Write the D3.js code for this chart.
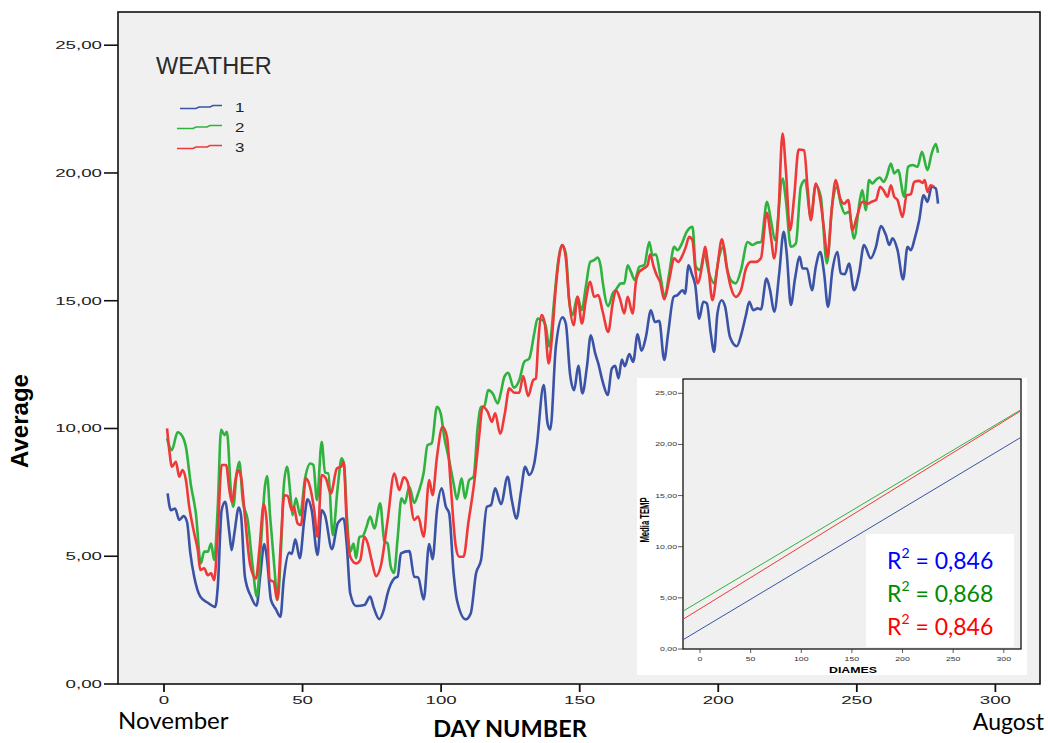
<!DOCTYPE html>
<html><head><meta charset="utf-8">
<script src="https://cdn.jsdelivr.net/npm/d3@7"></script>
<style>body{margin:0;background:#fff}svg{display:block}</style>
</head><body><svg id="c" width="1048" height="743"></svg>
<script>
// ---- data ----
const days1=[1.3,2.5,4,5.5,7.1,8.3,9.5,10.9,13.1,15.8,18.5,19.4,20.8,22.1,23.6,24.4,25.4,27,27.8,29.2,31.4,33.4,34.7,36.2,37.2,38.6,40.4,42,43.2,45.2,46.1,47.4,49,50.6,51.8,53.3,55.4,56.9,58.1,60.6,62.7,64.8,66,67.2,69.3,72.3,74.4,75.6,77.7,79.3,80.7,83.1,84.3,85.5,88.5,90.3,91.7,93.7,95.7,96.9,98.5,100.2,101.7,102.9,104.5,105.7,108.9,110.7,112.6,114.4,116.5,118,119.5,121.6,124,125.5,127.2,128.8,130.3,131.8,133.6,134.5,137,138.4,139.4,141.4,143.8,145,146.5,148,149.5,151,152.6,154,155.6,156.7,158.3,160.1,161.6,162.8,164,165.2,166.3,167.9,169.3,170.9,172.3,173.9,175.7,177.1,178.7,180.5,181.9,183.9,185.3,187.1,188,189.3,190.5,191.7,193.1,194.6,195.9,197.3,198.5,199.7,201.2,202.5,204.2,206.7,208.4,210,211.2,212.6,214.2,215.4,217.4,218.7,220.2,222,223.6,224.7,226.2,227.7,229.4,230.4,232,233.8,235.2,236.8,238.2,239.6,241.2,243,244.2,245.7,247.2,249,250.8,252.6,255,256.9,258.7,260.5,261.7,262.9,264.7,266.7,268.3,269.5,270.9,272.5,274.1,275.5,277,278.5,279.3];
const temp1=[7.46,6.8,6.87,6.42,6.57,6.35,5.12,4.2,3.42,3.18,3.02,3.8,6.8,7.13,5.9,5.24,5.9,6.91,6.6,4.2,3.42,3.06,4.2,5.48,4.85,3.29,2.92,2.63,4.07,5.14,5.09,5.66,4.92,6.42,7.23,6.8,5.05,6.8,6.6,5.28,6.29,6.48,5.37,3.55,3.05,3.09,3.42,3.02,2.54,2.9,3.55,4.13,4.2,5.11,5.2,4.2,4.17,3.31,5.48,4.88,6.8,7.66,6.94,6.68,4.33,3.29,2.53,2.77,4.33,4.85,6.94,7.0,7.66,7.04,8.11,7.2,6.48,7.52,8.5,8.18,8.63,9.3,11.7,10.2,9.96,13.2,14.35,14.1,12.15,11.5,12.45,11.37,12.41,13.65,12.94,12.55,11.83,11.31,12.35,12.45,11.96,12.7,12.44,12.91,12.61,13.69,13.04,13.59,14.63,14.17,14.21,12.68,13.72,15.15,15.22,15.41,15.28,16.39,16.04,15.61,14.3,14.96,14.89,13.72,13.0,14.5,15.02,14.76,13.59,13.22,13.72,14.44,14.96,14.63,14.7,14.66,15.87,15.41,14.57,16.07,17.7,16.85,14.83,15.87,16.72,16.26,16.26,15.41,16.33,16.91,16.07,14.76,16.2,16.91,16.07,16.04,16.46,15.41,16.07,17.18,16.66,17.11,17.92,17.57,17.18,17.44,16.98,15.83,17.11,16.98,17.44,18.15,19.13,18.87,19.46,19.39,18.8];

const days2=[1.1,2.8,4.9,6.7,7.9,9.7,11.5,13.3,14.5,15.8,17,18.1,19.4,20.6,21.8,22.7,24.2,25,26.2,27.2,28.4,30.2,32,33.5,35,36.4,37.2,38.3,39.8,41,42.2,43.2,44.4,45.8,46.4,47.6,49.1,50.9,52.8,53.9,55.2,56.9,58.1,59.3,60.9,62.7,64.1,65,66,67.2,68.4,69.3,70.5,71.7,72.9,74.4,75.9,78,79.5,80.7,81.8,83,84.3,85.7,86.9,88.5,90.3,91.7,93.7,95.1,96.6,98.5,99.9,101.1,102.9,104.5,105.7,107.4,108.6,110.1,111.7,113.2,114.4,115.5,117,118.6,120.4,121.6,122.8,124.2,126.2,128.2,130,131.8,133.6,134.8,136.6,137.8,139,140.8,142.2,143.6,145,146.2,147.4,149.2,150.7,152.2,153.8,155.2,156.5,157.6,158.3,160.3,161.9,163.1,164.9,166.1,167.3,168.5,169.9,171.5,173.3,175.1,176.3,177.5,179,180.7,182.3,184.1,185.3,187.1,188.3,189.5,190.7,191.9,193.5,194.9,196.7,198.5,200.3,201.9,203.3,204.5,206.3,208.2,210.6,212.4,213.9,215.4,217.6,219,220.5,223.2,224.4,226.2,228,229.8,231.3,233.4,235.2,237,239.2,241.2,242.8,244.2,245.7,247.2,249,251.2,252,253.2,254.4,255.6,256.8,258.3,259.6,260.8,262.3,263.5,264.9,267.1,268.5,270.1,271.9,273.5,275.5,277,278.5,279.3];
const temp2=[9.61,9.15,9.85,9.68,9.28,7.79,6.68,4.72,5.18,5.18,5.5,4.85,6.94,9.96,9.74,9.87,7.46,6.94,8.24,8.7,7.2,6.42,4.59,3.42,5.5,7.72,8.14,6.55,4.59,3.29,5.24,7.72,8.5,7.2,6.61,7.27,6.61,8.05,8.63,8.57,7.2,9.48,8.27,8.24,5.83,7.72,8.83,8.57,6.55,5.18,5.5,4.92,5.76,5.79,6.09,6.55,6.09,7.07,5.6,5.5,4.6,4.35,5.7,7.27,7.07,7.72,7.09,7.46,8.27,9.35,9.42,10.85,10.56,9.68,8.76,7.85,7.23,8.05,7.27,7.98,8.11,10.07,10.85,10.85,11.5,11.37,10.98,11.43,12.02,12.18,11.6,11.89,12.61,12.74,13.72,14.3,14.24,13.98,13.2,15.02,16.52,17.18,16.85,15.02,14.44,15.15,14.63,15.54,16.52,16.59,16.69,16.33,15.74,14.79,15.28,15.44,15.68,15.68,16.39,16.13,15.81,16.33,16.39,17.3,16.78,16.82,16.04,15.15,16.07,17.11,16.98,17.3,17.63,17.83,17.89,16.33,16.2,16.85,16.07,15.68,16.72,17.11,16.2,15.81,15.68,16.2,17.3,17.18,17.27,17.3,18.87,18.15,17.37,19.78,18.94,17.11,17.24,19.46,19.72,18.28,19.52,19.07,16.46,18.8,19.46,18.8,18.41,18.48,17.44,19.0,19.33,18.54,19.72,19.59,19.72,19.82,19.65,19.87,20.37,19.98,20.11,19.07,20.24,20.31,20.24,20.83,20.11,20.76,21.13,20.79];

const days3=[1.1,1.9,2.9,4.3,5.5,6.7,7.9,9.1,10.9,12.2,13.1,14.5,15.8,17,18.1,19.4,20.8,22.4,23.6,24.5,26,26.8,27.8,29.2,31.1,33.2,34.4,36,37,38.2,39.6,40.8,42.2,43.4,44.6,46.1,46.8,48.2,49.4,51.2,52.8,54.2,55.4,56.9,58.4,60.2,62.4,63.9,64.8,66,67.2,69.3,70.8,72.3,73.5,74.9,76.5,78.3,80.7,83.1,84.9,86.5,87.9,90.3,91.7,93.7,95.7,96.9,98.5,100.5,102.1,103.5,105.3,106.5,108.1,109.8,111.9,113.7,115,116.8,118.3,119.5,121.3,123,124.6,126.4,128.2,129.6,131.4,133.2,134.2,135,136.3,137.4,138.8,139.9,141.4,143,143.8,145,146.2,147.8,149.2,150.8,152.2,153.8,155.2,156.7,158.3,160.3,161.9,163.1,164.5,166.1,167.3,169.1,170.3,171.5,173.1,174.5,175.4,176.7,177.8,179,180.5,182.3,184.1,185.5,187.1,188.3,189.5,190.7,191.7,192.5,194.3,195.2,196.4,197.9,199.7,201.3,203,204.5,206.3,208.2,210,211.8,213.6,215.4,217.5,219,220.2,221.6,223.2,224.4,225.9,227.4,229,231,232.2,233.4,235.2,236.8,238.2,239.4,240.9,242.4,244,245.4,246.9,248.4,250,252,253.9,255.3,256.9,258.4,259.6,261.1,262.3,263.5,264.7,266.5,268,269.5,270.7,272.5,273.7,274.5,275.5,276.7,277.9];
const temp3=[10.0,9.15,8.5,8.7,8.11,8.37,7.98,6.94,5.9,5.24,4.46,4.53,4.26,4.33,4.07,5.9,8.57,8.57,7.59,7.13,8.11,8.37,8.11,6.55,4.66,4.13,5.24,7.04,6.42,4.07,4.0,3.29,5.63,7.39,7.36,6.8,6.94,6.29,6.22,8.05,7.66,6.8,5.76,8.18,8.05,7.46,8.44,8.5,8.7,6.16,4.98,4.72,4.85,5.76,5.5,4.85,4.22,4.65,6.42,8.24,7.59,8.09,7.91,6.42,6.55,5.76,7.98,7.39,8.89,10.07,9.68,7.72,5.37,4.98,4.98,6.29,7.85,9.68,10.85,10.65,10.26,10.59,9.8,10.6,11.57,11.4,11.4,12.05,11.27,11.89,11.96,13.33,14.44,14.11,12.55,13.46,15.54,16.98,17.18,16.66,15.02,14.04,15.15,14.11,15.02,15.74,15.15,15.22,14.57,13.78,14.89,15.41,15.09,14.5,15.15,14.5,15.74,16.13,16.26,16.39,16.82,16.33,16.0,15.74,15.05,15.81,16.66,16.52,16.78,17.11,17.5,17.37,16.26,15.68,16.46,17.11,16.33,15.02,16.33,17.4,16.33,15.54,15.15,15.41,16.26,16.52,16.52,16.66,18.44,17.5,16.66,18.15,21.54,20.11,17.76,19.07,20.92,20.89,19.46,18.15,19.59,18.94,17.76,16.72,18.54,19.72,19.0,18.8,18.94,17.76,18.28,18.87,18.8,18.87,18.94,19.46,19.33,19.07,19.52,19.07,18.94,18.28,19.13,19.17,19.65,19.69,19.61,19.72,19.26,19.52,19.46];

const seriesNames=["1","2","3"];
const seriesColors=["#3a53a6","#30b23e","#ef3838"];
const yTicks=[0,5,10,15,20,25];
const xTicks=[0,50,100,150,200,250,300];

// inset: linear fits
const fitDays=[-16.8,317];
const fit1=[0.9,20.7];
const fit2=[3.7,23.4];
const fit3=[2.9,23.3];
const r2Values=["0,846","0,868","0,846"];
const r2Colors=["#0000ff","#008a00","#ff0000"];
const insetYTicks=[0,5,10,15,20,25];
const insetXTicks=[0,50,100,150,200,250,300];

// ---- drawing ----
const svg=d3.select("#c");
const fmt=v=>d3.format(".2f")(v).replace(".",",");
function stretch(sel,f){sel.each(function(){const w=this.getComputedTextLength();this.setAttribute("textLength",w*f);this.setAttribute("lengthAdjust","spacingAndGlyphs");});}

svg.append("rect").attr("width",1048).attr("height",743).attr("fill","#fff");

const x=d3.scaleLinear().domain([-16.6,316.1]).range([118,1040]);
const y=d3.scaleLinear().domain([0,26.3]).range([684,12]);

svg.append("rect").attr("x",118).attr("y",12).attr("width",922).attr("height",672)
  .attr("fill","#f0f0f0").attr("stroke","#111").attr("stroke-width",1.6);

// y axis ticks
const yg=svg.append("g");
yg.selectAll("line").data(yTicks).join("line")
  .attr("x1",104).attr("x2",118).attr("y1",d=>y(d)).attr("y2",d=>y(d))
  .attr("stroke","#111").attr("stroke-width",1.6);
yg.selectAll("text").data(yTicks).join("text")
  .attr("x",102).attr("y",d=>y(d)+4).attr("text-anchor","end")
  .attr("font-family","Liberation Sans, Arial, sans-serif").attr("font-size",11).attr("fill","#222")
  .text(fmt).call(stretch,1.7);

// x axis ticks
const xg=svg.append("g");
xg.selectAll("line").data(xTicks).join("line")
  .attr("x1",d=>x(d)).attr("x2",d=>x(d)).attr("y1",684).attr("y2",692)
  .attr("stroke","#111").attr("stroke-width",1.8);
xg.selectAll("text").data(xTicks).join("text")
  .attr("x",d=>x(d)).attr("y",703.5).attr("text-anchor","middle")
  .attr("font-family","Liberation Sans, Arial, sans-serif").attr("font-size",11).attr("fill","#222")
  .text(d=>d).call(stretch,1.7);

// series
const allDays=[days1,days2,days3], allTemps=[temp1,temp2,temp3];
const line=d3.line().x(d=>x(d[0])).y(d=>y(d[1])).curve(d3.curveMonotoneX);
allDays.forEach((ds,i)=>{
  const pts=ds.map((d,j)=>[d,allTemps[i][j]]);
  svg.append("path").datum(pts).attr("d",line).attr("fill","none")
    .attr("stroke",seriesColors[i]).attr("stroke-width",2.6).attr("stroke-linejoin","round");
});

// legend
svg.append("text").attr("x",156).attr("y",74).text("WEATHER")
  .attr("font-family","Liberation Sans, Arial, sans-serif").attr("font-size",23.5).attr("fill","#2a2a2a");
const lg=svg.append("g");
seriesNames.forEach((n,i)=>{
  const cy=107+i*20;
  const sx=i===0?180:177;
  lg.append("path").attr("d",`M${sx},${cy+1.5}H${sx+16}L${sx+19},${cy}H${sx+30}L${sx+33},${cy-1.5}H222`)
    .attr("fill","none").attr("stroke",seriesColors[i]).attr("stroke-width",1.6);
  lg.append("text").attr("x",235).attr("y",cy+5).text(n)
    .attr("font-family","Liberation Sans, Arial, sans-serif").attr("font-size",13).attr("fill","#222").call(stretch,1.3);
});

// axis titles
svg.append("text").attr("transform","translate(28,421) rotate(-90)").attr("text-anchor","middle")
  .attr("font-family","Liberation Sans, Arial, sans-serif").attr("font-weight","bold").attr("font-size",24)
  .attr("fill","#000").text("Average");
svg.append("text").attr("x",510).attr("y",737).attr("text-anchor","middle")
  .attr("font-family","Lato, sans-serif").attr("font-weight","bold").attr("font-size",23.5).text("DAY NUMBER");
svg.append("text").attr("x",118).attr("y",729)
  .attr("font-family","Lato, sans-serif").attr("font-size",24).text("November");
svg.append("text").attr("x",1044).attr("y",730).attr("text-anchor","end")
  .attr("font-family","Lato, sans-serif").attr("font-size",23).text("Augost");

// ---- inset ----
svg.append("rect").attr("x",637).attr("y",378).attr("width",390).attr("height",297).attr("fill","#fff");
const ix=d3.scaleLinear().domain([-16.8,317]).range([683,1021]);
const iy=d3.scaleLinear().domain([0,26.4]).range([649,379]);
svg.append("rect").attr("x",683).attr("y",379).attr("width",338).attr("height",270)
  .attr("fill","#f0f0f0").attr("stroke","#111").attr("stroke-width",1.3);
const ig=svg.append("g");
ig.selectAll("line.yt").data(insetYTicks).join("line").attr("class","yt")
  .attr("x1",678).attr("x2",683).attr("y1",d=>iy(d)).attr("y2",d=>iy(d)).attr("stroke","#333").attr("stroke-width",0.8);
ig.selectAll("text.yt").data(insetYTicks).join("text").attr("class","yt")
  .attr("x",677).attr("y",d=>iy(d)+2).attr("text-anchor","end")
  .attr("font-family","Liberation Sans, Arial, sans-serif").attr("font-size",6).attr("fill","#333")
  .text(fmt).call(stretch,1.45);
ig.selectAll("line.xt").data(insetXTicks).join("line").attr("class","xt")
  .attr("x1",d=>ix(d)).attr("x2",d=>ix(d)).attr("y1",649).attr("y2",653).attr("stroke","#333").attr("stroke-width",0.8);
ig.selectAll("text.xt").data(insetXTicks).join("text").attr("class","xt")
  .attr("x",d=>ix(d)).attr("y",661).attr("text-anchor","middle")
  .attr("font-family","Liberation Sans, Arial, sans-serif").attr("font-size",6).attr("fill","#333")
  .text(d=>d).call(stretch,1.45);
svg.append("text").attr("x",853).attr("y",673).attr("text-anchor","middle")
  .attr("font-family","Liberation Sans, Arial, sans-serif").attr("font-weight","bold").attr("font-size",8.5)
  .text("DIAMES").call(stretch,1.45);
svg.append("text").attr("transform","translate(649,520) rotate(-90)").attr("text-anchor","middle")
  .attr("font-family","Liberation Sans, Arial, sans-serif").attr("font-weight","bold").attr("font-size",12)
  .text("Media TEMP").call(stretch,0.64);

const fits=[fit1,fit2,fit3];
const fitLine=d3.line().x(d=>ix(d[0])).y(d=>iy(d[1]));
fits.forEach((f,i)=>{
  svg.append("path").datum(fitDays.map((d,j)=>[d,f[j]])).attr("d",fitLine)
    .attr("fill","none").attr("stroke",seriesColors[i]).attr("stroke-width",1);
});
svg.append("rect").attr("x",866).attr("y",534).attr("width",148).attr("height",113).attr("fill","#fff");
r2Values.forEach((v,i)=>{
  const t=svg.append("text").attr("x",887).attr("y",569+i*33)
    .attr("font-family","Lato, sans-serif").attr("font-size",23).attr("fill",r2Colors[i]);
  t.append("tspan").text("R");
  t.append("tspan").attr("dy",-11).attr("font-size",14).text("2");
  t.append("tspan").attr("dy",11).text(" = "+v);
});
</script></body></html>
